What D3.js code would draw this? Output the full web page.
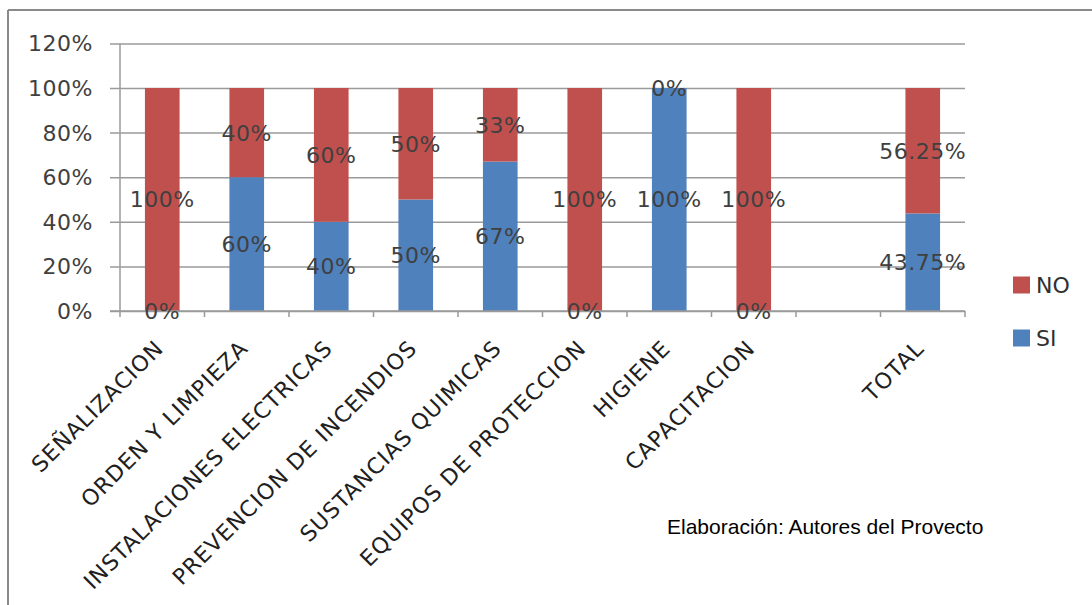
<!DOCTYPE html>
<html>
<head>
<meta charset="utf-8">
<script src="https://cdn.jsdelivr.net/npm/d3@7"></script>
<style>
  html, body { margin: 0; padding: 0; background: #fff; }
  svg { display: block; }
</style>
</head>
<body>
<svg id="chart" width="1092" height="605"></svg>
<script>
// Categories (the empty slot keeps a gap before TOTAL)
const categories = [
  "SEÑALIZACION", "ORDEN Y LIMPIEZA", "INSTALACIONES ELECTRICAS",
  "PREVENCION DE INCENDIOS", "SUSTANCIAS QUIMICAS", "EQUIPOS DE PROTECCION",
  "HIGIENE", "CAPACITACION", "", "TOTAL"
];
// Percent values per series (null = no bar)
const siValues = [0, 60, 40, 50, 67, 0, 100, 0, null, 43.75];
const noValues = [100, 40, 60, 50, 33, 100, 0, 100, null, 56.25];
const siLabels = ["0%", "60%", "40%", "50%", "67%", "0%", "100%", "0%", null, "43.75%"];
const noLabels = ["100%", "40%", "60%", "50%", "33%", "100%", "0%", "100%", null, "56.25%"];
const yTicks = [0, 20, 40, 60, 80, 100, 120];
const seriesNames = ["NO", "SI"];
const caption = "Elaboración: Autores del Provecto";

const colors = { SI: "#4F81BD", NO: "#C0504D" };
const labelFont = "'DejaVu Sans', sans-serif";

const svg = d3.select("#chart");
const plot = { left: 120, right: 965, top: 43.4, bottom: 311 };

const x = d3.scaleBand()
  .domain(d3.range(categories.length))
  .range([plot.left, plot.right])
  .paddingInner(0.59)
  .paddingOuter(0.295);
const xSlot = d3.scaleBand()
  .domain(d3.range(categories.length))
  .range([plot.left, plot.right]);
const y = d3.scaleLinear().domain([0, 120]).range([plot.bottom, plot.top]);

// Chart area border (top and left edges)
svg.append("line").attr("x1", 8).attr("x2", 1092).attr("y1", 10).attr("y2", 10)
  .attr("stroke", "#8a8a8a").attr("stroke-width", 2);
svg.append("line").attr("x1", 8).attr("x2", 8).attr("y1", 10).attr("y2", 605)
  .attr("stroke", "#8a8a8a").attr("stroke-width", 2);

// Horizontal gridlines with left tick stubs
const gy = svg.append("g")
  .attr("transform", `translate(${plot.right},0)`);
gy.call(d3.axisLeft(y).tickValues(yTicks).tickFormat("")
  .tickSize(plot.right - plot.left + 10));
gy.select(".domain").remove();
gy.selectAll(".tick line").attr("stroke", "#9a9a9a").attr("stroke-width", 1.5);

// Y tick labels
svg.append("g").selectAll("text")
  .data(yTicks)
  .join("text")
  .attr("x", 93)
  .attr("y", d => y(d))
  .attr("dy", "0.36em")
  .attr("text-anchor", "end")
  .attr("font-family", labelFont)
  .attr("font-size", 22)
  .attr("letter-spacing", 0.5)
  .attr("fill", "#404040")
  .text(d => d + "%");

// Vertical axis line
svg.append("line")
  .attr("x1", plot.left).attr("x2", plot.left)
  .attr("y1", plot.top).attr("y2", plot.bottom)
  .attr("stroke", "#9a9a9a").attr("stroke-width", 1.5);

// X axis with category boundary ticks
const boundaries = d3.range(categories.length + 1).map(i => plot.left + i * xSlot.bandwidth());
svg.append("g").selectAll("line")
  .data(boundaries)
  .join("line")
  .attr("x1", d => d).attr("x2", d => d)
  .attr("y1", plot.bottom).attr("y2", plot.bottom + 6)
  .attr("stroke", "#9a9a9a").attr("stroke-width", 1.5);

// Stacked bars
const stackData = categories.map((c, i) => ({ i, SI: siValues[i], NO: noValues[i] }))
  .filter(d => d.SI !== null);
const bars = svg.append("g");
stackData.forEach(d => {
  bars.append("rect")
    .attr("x", x(d.i)).attr("width", x.bandwidth())
    .attr("y", y(d.SI)).attr("height", y(0) - y(d.SI))
    .attr("fill", colors.SI);
  bars.append("rect")
    .attr("x", x(d.i)).attr("width", x.bandwidth())
    .attr("y", y(d.SI + d.NO)).attr("height", y(d.SI) - y(d.SI + d.NO))
    .attr("fill", colors.NO);
});

svg.append("line")
  .attr("x1", plot.left - 10).attr("x2", plot.right)
  .attr("y1", plot.bottom).attr("y2", plot.bottom)
  .attr("stroke", "#9a9a9a").attr("stroke-width", 1.5);

// Data labels centered in each segment
const dl = svg.append("g")
  .attr("font-family", labelFont)
  .attr("font-size", 22)
  .attr("letter-spacing", 0.5)
  .attr("fill", "#404040")
  .attr("text-anchor", "middle");
stackData.forEach(d => {
  dl.append("text")
    .attr("x", x(d.i) + x.bandwidth() / 2)
    .attr("y", y(d.SI / 2)).attr("dy", "0.36em")
    .text(siLabels[d.i]);
  dl.append("text")
    .attr("x", x(d.i) + x.bandwidth() / 2)
    .attr("y", y(d.SI + d.NO / 2)).attr("dy", "0.36em")
    .text(noLabels[d.i]);
});

// Rotated category labels
svg.append("g").selectAll("text")
  .data(categories.map((c, i) => ({ c, i })).filter(d => d.c))
  .join("text")
  .attr("transform", d => `translate(${xSlot(d.i) + xSlot.bandwidth() / 2 - 3},${plot.bottom + 33}) rotate(-45)`)
  .attr("text-anchor", "end")
  .attr("dy", "0.36em")
  .attr("font-family", labelFont)
  .attr("font-size", 22)
  .attr("letter-spacing", 1)
  .attr("fill", "#202020")
  .text(d => d.c);

// Legend
const legend = svg.append("g");
seriesNames.forEach((s, k) => {
  const ly = 285 + k * 53;
  legend.append("rect").attr("x", 1013).attr("y", ly - 8.5)
    .attr("width", 17).attr("height", 17).attr("fill", colors[s]);
  legend.append("text").attr("x", 1036).attr("y", ly).attr("dy", "0.36em")
    .attr("font-family", labelFont).attr("font-size", 22)
    .attr("fill", "#303030").text(s);
});

// Source note
svg.append("text")
  .attr("x", 667).attr("y", 534)
  .attr("font-family", "'Liberation Sans', Arial, sans-serif")
  .attr("font-size", 21)
  .attr("fill", "#000")
  .text(caption);
</script>
</body>
</html>
